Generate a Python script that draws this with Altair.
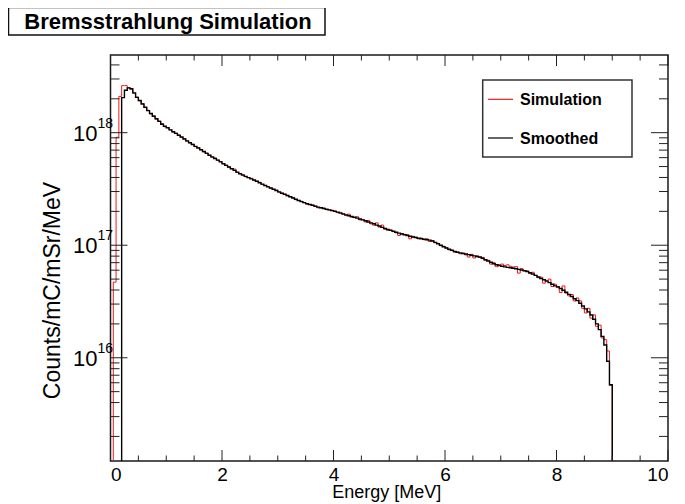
import altair as alt
import pandas as pd

# ---------------- data (values in units of 1e16 counts/mC/mSr/MeV) ----------------
BIN_WIDTH = 0.05          # MeV, histogram bin width (bins start at 0)
UNIT = 1e16
FLOOR = 1e12              # stand-in for empty bins (below the log axis, clipped)

simulation = [
    0, 4.7, 91, 210,
    262, 262, 251, 243, 224, 207, 192, 181, 167, 158, 147, 141, 132, 127, 120, 113,
    111, 106, 101.5, 99, 95, 91, 88.5, 84, 81.5, 79, 75, 73.5, 70.5, 67.5, 66, 63, 60.5, 59.5, 57, 55.5,
    53, 51.5, 49.3, 47.8, 47.5, 44.3, 43.2, 42.3, 40.6, 39.9, 39.3, 37.7, 37.0, 36.3, 34.6, 33.9, 33.2, 32.0, 31.4, 30.9,
    29.6, 29.0, 28.6, 27.5, 27.0, 26.6, 25.4, 25.0, 24.6, 23.9, 23.1, 23.0, 22.9, 22.2, 21.5, 21.5, 21.4, 20.7, 20.6, 20.5,
    20.2, 19.5, 19.6, 18.8, 18.4, 18.9, 17.8, 17.6, 17.9, 16.8, 16.9, 16.1, 16.6, 15.5, 15.1, 15.8, 14.5, 15.1, 13.9, 13.6,
    13.7, 13.2, 12.9, 12.2, 12.7, 12.5, 12.4, 11.4, 12.0, 11.8, 11.4, 11.6, 11.2, 11.4, 10.8, 11.0, 10.5, 10.4, 9.9, 9.8,
    9.5, 9.1, 9.1, 8.7, 8.7, 8.4, 8.5, 8.2, 7.85, 8.3, 7.7, 8.05, 7.8, 7.8, 7.3, 7.35, 6.8, 7.0, 6.45, 6.7,
    6.8, 6.6, 6.7, 6.5, 6.4, 6.45, 5.65, 6.2, 5.95, 5.9, 5.6, 5.75, 5.4, 5.15, 5.2, 4.6, 4.85, 5.0, 4.3, 4.5,
    4.3, 3.8, 4.35, 3.75, 3.55, 3.65, 3.2, 3.4, 3.2, 2.75, 2.5, 2.75, 2.25, 2.4, 1.9, 1.95, 1.5, 1.45, 1.15, 0.57,
]

smoothed = [
    0, 0, 0, 0,
    205, 238, 250, 246, 226, 206, 193, 180, 168, 157, 148, 140, 133, 126, 119, 114,
    110.5, 106, 102, 98.5, 95, 91.5, 88, 84.5, 81.5, 78.5, 75.5, 73, 70.5, 68, 65.5, 63, 61, 59, 57, 55,
    53, 51.2, 49.5, 47.8, 46.2, 44.6, 43.2, 42.0, 40.9, 39.9, 38.9, 38.0, 37.0, 35.9, 34.9, 33.9, 33.0, 32.2, 31.4, 30.6,
    29.8, 29.0, 28.3, 27.7, 27.0, 26.3, 25.6, 25.0, 24.4, 23.9, 23.4, 23.0, 22.6, 22.2, 21.8, 21.5, 21.2, 20.9, 20.6, 20.3,
    20.0, 19.7, 19.3, 19.0, 18.6, 18.3, 18.0, 17.7, 17.4, 17.1, 16.8, 16.5, 16.1, 15.8, 15.5, 15.1, 14.8, 14.4, 14.1, 13.8,
    13.55, 13.3, 13.05, 12.8, 12.6, 12.4, 12.2, 12.0, 11.85, 11.7, 11.55, 11.4, 11.3, 11.2, 11.1, 10.9, 10.6, 10.3, 10.0, 9.7,
    9.45, 9.2, 9.0, 8.8, 8.65, 8.55, 8.45, 8.35, 8.25, 8.15, 8.05, 7.95, 7.85, 7.65, 7.45, 7.25, 7.05, 6.85, 6.7, 6.6,
    6.5, 6.42, 6.35, 6.3, 6.25, 6.18, 6.1, 6.02, 5.93, 5.85, 5.7, 5.55, 5.4, 5.22, 5.07, 4.93, 4.8, 4.65, 4.5, 4.35,
    4.25, 4.13, 3.98, 3.82, 3.66, 3.5, 3.35, 3.22, 3.05, 2.88, 2.72, 2.56, 2.4, 2.2, 2.0, 1.78, 1.55, 1.3, 0.93, 0.575,
]

x_major = [0, 2, 4, 6, 8, 10]
x_minor = [0.5, 1, 1.5, 2.5, 3, 3.5, 4.5, 5, 5.5, 6.5, 7, 7.5, 8.5, 9, 9.5]
y_major = [1e16, 1e17, 1e18]
y_major_exp = ["16", "17", "18"]
y_minor = [2e15, 3e15, 4e15, 5e15, 6e15, 7e15, 8e15, 9e15,
           2e16, 3e16, 4e16, 5e16, 6e16, 7e16, 8e16, 9e16,
           2e17, 3e17, 4e17, 5e17, 6e17, 7e17, 8e17, 9e17,
           2e18, 3e18, 4e18]
legend_labels = ["Simulation", "Smoothed"]
legend_colors = ["#ee1c1c", "#000000"]

X_MAX = 10.0
Y_DOMAIN = [1.21e15, 4.9e18]

# ---------------- layout ----------------
W, H = 557.5, 406
FONT = "Liberation Sans"


def hist_frame(vals):
    rows = []
    for i, v in enumerate(vals):
        rows.append({"E": round(i * BIN_WIDTH, 4), "y": v * UNIT if v > 0 else FLOOR, "o": i})
    n = len(vals)
    rows.append({"E": round(n * BIN_WIDTH, 4), "y": FLOOR, "o": n})
    rows.append({"E": X_MAX, "y": FLOOR, "o": n + 1})
    return pd.DataFrame(rows)


xs = alt.Scale(domain=[0, X_MAX], nice=False, zero=False)
ys = alt.Scale(type="log", domain=Y_DOMAIN, nice=False)

x_axis = alt.Axis(values=x_major, format="d", ticks=False, domain=False, grid=False,
                  labelFont=FONT, labelFontSize=19, labelColor="#000", labelPadding=4,
                  title="Energy [MeV]", titleFont=FONT, titleFontSize=18,
                  titleFontWeight="normal", titleColor="#000",
                  titleX=W / 2 - 3, titleY=31, titleBaseline="middle", titleAlign="center")
y_axis = alt.Axis(labels=False, ticks=False, domain=False, grid=False,
                  title="Counts/mC/mSr/MeV", titleFont=FONT, titleFontSize=23,
                  titleFontWeight="normal", titleColor="#000",
                  titleX=-58, titleY=235, titleAngle=270, titleAlign="center",
                  titleBaseline="middle")

sim = alt.Chart(hist_frame(simulation)).mark_line(
    interpolate="step-after", color=legend_colors[0], strokeWidth=1, clip=True
).encode(
    x=alt.X("E:Q", scale=xs, axis=x_axis),
    y=alt.Y("y:Q", scale=ys, axis=y_axis),
    order="o:Q",
)

smo = alt.Chart(hist_frame(smoothed)).mark_line(
    interpolate="step-after", color=legend_colors[1], strokeWidth=1.4, clip=True
).encode(
    x=alt.X("E:Q", scale=xs),
    y=alt.Y("y:Q", scale=ys),
    order="o:Q",
)

TICK_COLOR = "#222"
xmaj = pd.DataFrame({"E": x_major})
xmin = pd.DataFrame({"E": x_minor})
ymaj = pd.DataFrame({"y": y_major, "exp": y_major_exp, "base": ["10"] * len(y_major)})
ymin = pd.DataFrame({"y": y_minor})


def xtick(df, length, top):
    y0, y1 = (0, length) if top else (H, H - length)
    return alt.Chart(df).mark_rule(color=TICK_COLOR, strokeWidth=1).encode(
        x=alt.X("E:Q", scale=xs), y=alt.value(y0), y2=alt.value(y1))


def ytick(df, length, right):
    x0, x1 = (W, W - length) if right else (0, length)
    return alt.Chart(df).mark_rule(color=TICK_COLOR, strokeWidth=1).encode(
        y=alt.Y("y:Q", scale=ys), x=alt.value(x0), x2=alt.value(x1))


ticks = [
    xtick(xmaj, 11, False), xtick(xmin, 5.5, False),
    xtick(xmaj, 11, True), xtick(xmin, 5.5, True),
    ytick(ymaj, 17, False), ytick(ymin, 9, False),
    ytick(ymaj, 17, True), ytick(ymin, 9, True),
]

ylab_base = alt.Chart(ymaj).mark_text(
    font=FONT, fontSize=22, align="right", baseline="middle", color="#000", dy=1
).encode(y=alt.Y("y:Q", scale=ys), x=alt.value(-13), text="base:N")
ylab_exp = alt.Chart(ymaj).mark_text(
    font=FONT, fontSize=14, align="left", baseline="middle", color="#000", dy=-9
).encode(y=alt.Y("y:Q", scale=ys), x=alt.value(-13), text="exp:N")

# title box
one = pd.DataFrame({"k": [0]})
title_box = alt.Chart(one).mark_rect(fill="white", stroke="#111", strokeWidth=1.5).encode(
    x=alt.value(-102), x2=alt.value(214.5), y=alt.value(-47.5), y2=alt.value(-20))
title_text = alt.Chart(one).mark_text(
    text="Bremsstrahlung Simulation", font=FONT, fontSize=22, fontWeight="bold",
    align="center", baseline="alphabetic", color="#000"
).encode(x=alt.value(57.5), y=alt.value(-26.5))

# legend
leg_df = pd.DataFrame({"label": legend_labels, "color": legend_colors, "row": [0, 1]})
leg_box = alt.Chart(one).mark_rect(fill="white", stroke="#333", strokeWidth=1.5).encode(
    x=alt.value(372.2), x2=alt.value(521.5), y=alt.value(25), y2=alt.value(102))
leg_layers = []
for i, (lab, col) in enumerate(zip(legend_labels, legend_colors)):
    yy = 44.3 + i * 38.7
    sub = leg_df[leg_df["row"] == i]
    leg_layers.append(alt.Chart(sub).mark_rule(color=col, strokeWidth=1.2).encode(
        x=alt.value(377.5), x2=alt.value(402.5), y=alt.value(yy)))
    leg_layers.append(alt.Chart(sub).mark_text(
        font=FONT, fontSize=16, fontWeight="bold", align="left", baseline="middle", color="#000"
    ).encode(x=alt.value(409.5), y=alt.value(yy + 1), text="label:N"))

chart = alt.layer(
    sim, smo, *ticks, ylab_base, ylab_exp, title_box, title_text, leg_box, *leg_layers
).properties(
    width=W, height=H,
    autosize=alt.AutoSizeParams(type="none"),
    padding={"left": 102.5, "top": 47, "right": 9, "bottom": 41},
    background="white",
).configure_view(stroke="#1a1a1a", strokeWidth=1.5)

chart.save("out.html", embed_options={"renderer": "svg", "actions": False})
